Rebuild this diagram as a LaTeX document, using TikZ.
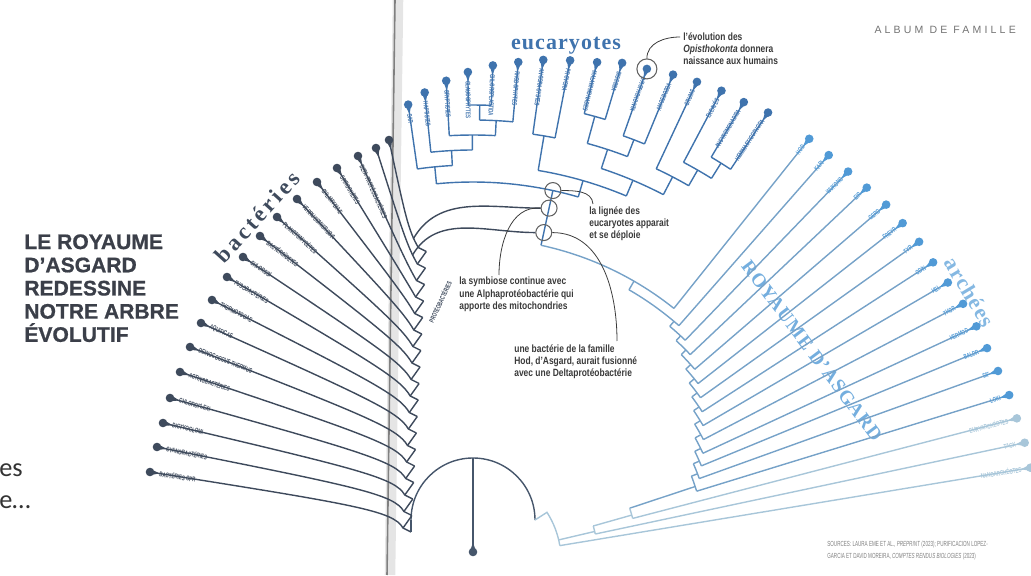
\documentclass[tikz,border=0pt]{standalone}
\usepackage{fontspec}
\setmainfont{Liberation Serif}
\newfontfamily\tipfont[FakeStretch=0.65]{Liberation Sans}
\newfontfamily\srcfont[FakeStretch=0.62]{Liberation Sans}
\newfontfamily\notefont[FakeStretch=0.8]{Liberation Sans}
\newfontfamily\titlefont[FakeBold=0.8]{Liberation Sans}
\newfontfamily\bactfont[LetterSpace=15]{Liberation Serif}
\newfontfamily\cladefont[LetterSpace=5]{Liberation Serif}
\newfontfamily\albumfont[LetterSpace=30]{Liberation Sans}
\newfontfamily\pagefont{Carlito}
\usetikzlibrary{calc}

\definecolor{bact}{HTML}{3E4A5C}
\definecolor{rootc}{HTML}{46566B}
\definecolor{euk}{HTML}{3F73AD}
\definecolor{asg}{HTML}{519AD6}
\definecolor{asgline}{HTML}{76A2C8}
\definecolor{arcpale}{HTML}{A8C6D9}
\definecolor{ink}{HTML}{3B3F49}
\definecolor{note}{HTML}{3A3A3A}

\tikzset{
  tree/.style={draw=#1, line width=0.8pt},
  tiplab/.style={font=\tipfont\bfseries\fontsize{3.9}{4}\selectfont, inner sep=0.5pt},
  note/.style={font=\notefont\bfseries\fontsize{6}{6.9}\selectfont, text=note, align=left, inner sep=0pt},
  ring/.style={circle, draw=note!80, line width=0.6pt, minimum size=0.32cm, inner sep=0pt},
  leader/.style={draw=note, line width=0.45pt},
}
% pin shaped tip: dot at #1, tail towards #2
\newcommand\tipdot[3]{\fill[#3] (#1) circle (4.3) ($(#1)!0.19cm!(#2)$) -- ($(#1)!0.065cm!90:(#2)$) -- ($(#1)!0.065cm!-90:(#2)$) -- cycle;}

\begin{document}
\begin{tikzpicture}[x=0.02cm, y=0.02cm]
\useasboundingbox (0,0) rectangle (1031,575);
\coordinate (C) at (473,15);

% page fold
\draw[black!10, line width=6pt] (398,575) -- (390,0);
\draw[black!50, line width=0.9pt] (395,575) -- (387,0);

% title, header, page bits
\node[anchor=north west, inner sep=0pt, align=left, text=ink, font=\titlefont\bfseries\fontsize{12}{13.2}\selectfont] (title) at (24,341) {LE ROYAUME\\D’ASGARD\\REDESSINE\\NOTRE ARBRE\\ÉVOLUTIF};
\node[anchor=east, text=black!55, font=\albumfont\fontsize{6}{7}\selectfont] (album) at (1022,545) {ALBUM DE FAMILLE};
\node[anchor=west, inner sep=0pt, text=black!80, font=\pagefont\fontsize{15}{15}\selectfont] (frag1) at (-1,105) {es};
\node[anchor=west, inner sep=0pt, text=black!80, font=\pagefont\fontsize{15}{15}\selectfont] (frag2) at (-1,73) {e…};

% clade names
\node[rotate=48, text=bact, font=\bactfont\bfseries\fontsize{13}{13}\selectfont] (bactname) at (257,358) {bactéries};
\node[text=euk, font=\cladefont\bfseries\fontsize{12.5}{13}\selectfont] (eukname) at (566,529) {eucaryotes};
\node[rotate=-59, text=asg!70, font=\cladefont\bfseries\fontsize{12.5}{13}\selectfont] (arcname) at (970,283) {archées};
\node[rotate=-53, text=asg!80, font=\cladefont\bfseries\fontsize{11}{12}\selectfont] (asgname) at (812,224) {ROYAUME D’ASGARD};
\node[tiplab, rotate=65, text=bact] (proteo) at (440,273) {PROTÉOBACTÉRIES};

% root
\draw[tree=rootc] (411,55) arc[start angle=180, end angle=0, radius=62];
\coordinate (rt) at (473,23);
\draw[tree=rootc] (473,117) -- (rt);
\tipdot{rt}{473,117}{rootc}

% bacteria
\foreach \k/\bx/\by/\lab in {1/150/103/BACTÉRIES CPR, 2/157/128/CYANOBACTÉRIES, 3/163/152/DICTYOGLOMI,
  4/170/177/CHLOROFLEXI, 5/180/203/ACTINOBACTÉRIES, 6/190/228/DEINOCOCCUS-THERMUS, 7/201/252/AQUIFICAE,
  8/212/275/THERMOTOGAE, 9/227/298/FUSOBACTÉRIES, 10/243/318/CHLOROBI, 11/260/339/BACTÉROÏDETES,
  12/277/358/PLANCTOMYCÈTES, 13/297/376/VERRUCOMICROBIA, 14/317/393/CHLAMYDIAE, 15/337/407/SPIROCHÈTES,
  16/358/419/BETA-PROTÉOBACTÉRIES, 17/376/427/, 18/389/435/}{
  \coordinate (b\k) at (\bx,\by);
  \coordinate (nb\k) at ({403+0.9*(\k-1)},{47+16.5*(\k-1)});
  \coordinate (qb\k) at ($(nb\k)+(-10,17.3)$);
  \coordinate (sb\k) at ($(nb\k)+(8,-4)$);
  \draw[tree=bact] (b\k) .. controls ($(b\k)!0.85!(qb\k)$) and (qb\k) .. (nb\k) -- (sb\k);
  \tipdot{b\k}{qb\k}{bact}
  \ifnum\k<17
    \path let \p1=($(qb\k)-(b\k)$) in node[tiplab, text=bact, rotate={atan2(\y1,\x1)}, anchor=west] (bl\k) at ($(b\k)!0.17cm!(qb\k)$) {\lab};
  \fi
}
\foreach \k in {2,...,18}{
  \pgfmathtruncatemacro\km{\k-1}
  \draw[tree=bact] (sb\k) -- (nb\km);
}
\draw[tree=rootc] (sb1) -- (411,55);

% eukaryotes
\foreach \ta/\tb/\rad in {95.55/73.83/378, 98.1/93.0/395, 95.9/90.09/410, 93.2/86.98/425, 89.15/84.8/440,
  90.6/87.7/455, 80.5/67.16/395, 82.0/79.0/430, 71.85/62.48/412, 74.65/69.05/432, 76.0/73.3/460,
  70.5/67.6/450, 64.9/60.05/432, 62.1/58.0/450, 59.4/56.6/468}
  \draw[tree=euk] ($(C)+(\ta:\rad)$) arc[start angle=\ta, end angle=\tb, radius=\rad];
\foreach \ang/\ra/\rb in {95.55/378/395, 73.83/378/395, 93.0/395/410, 90.09/410/425, 86.98/425/440,
  89.15/440/455, 80.5/395/430, 67.16/395/412, 71.85/412/432, 74.65/432/460, 69.05/432/450,
  62.48/412/432, 60.05/432/450, 58.0/450/468}
  \draw[tree=euk] ($(C)+(\ang:\ra)$) -- ($(C)+(\ang:\rb)$);
\foreach \k/\ang/\rn/\rad/\lab in {1/98.1/395/460/SAR, 2/95.9/410/470/HAPTISTES, 3/93.2/425/480/CRYPTISTES,
  4/90.6/455/488/GLAUCOPHYTES, 5/87.7/455/495/CHLOROPLASTIDA, 6/84.8/440/500/RHODOPHYTES,
  7/82.0/430/505/ANCORACYSTES, 8/79.0/430/509/PROVORA, 9/76.0/460/513/MALAWIMONADES,
  10/73.3/460/519/DISCOBA, 11/70.5/450/521/OPISTHOKONTA, 12/67.6/450/525/AMOEBOZOA,
  13/64.9/432/528/CRUMS, 14/62.1/450/531/EXCAVÉS, 15/59.4/468/532/ANCYROMONADIDA,
  16/56.6/468/536/HEMIMASTIGOPHORA}{
  \coordinate (e\k) at ($(C)+(\ang:\rad)$);
  \draw[tree=euk] ($(C)+(\ang:\rn)$) -- (e\k);
  \tipdot{e\k}{C}{euk}
  \pgfmathtruncatemacro\side{\ang>=68}
  \ifnum\side=1
    \node[tiplab, text=euk, rotate=\ang-180, anchor=west] (el\k) at ($(C)+(\ang:\rad-8)$) {\lab};
  \else
    \node[tiplab, text=euk, rotate=\ang, anchor=east] (el\k) at ($(C)+(\ang:\rad-8)$) {\lab};
  \fi
}
\draw[tree=euk] ($(C)+(77.8:322)$) -- ($(C)+(77.8:378)$);

% archaea
\draw[tree=asgline] ($(C)+(77.8:322)$) arc[start angle=77.8, end angle=51.4, radius=322];
\draw[tree=asgline] ($(C)+(60:312)$) -- ($(C)+(60:322)$);
\foreach \k/\ang/\prev/\rad/\rn/\col in {2/48.7/60/312/305.5/asgline, 3/46.0/49.9/305.5/299/asgline,
  4/43.4/47.2/299/292.5/asgline, 5/40.7/44.6/292.5/286/asgline, 6/38.1/41.9/286/279.5/asgline,
  7/35.5/39.3/279.5/273/asgline, 8/32.9/36.7/273/266.5/asgline, 9/30.3/34.1/266.5/260/asgline,
  10/27.6/31.5/260/253.5/asgline, 11/24.9/28.8/253.5/247/asgline, 12/22.4/26.1/247/240.5/asgline,
  13/19.8/23.6/240.5/234/asgline, 14/17.1/21.0/234/165/asgline, 15/14.6/18.3/165/125/arcpale,
  16/12.0/15.8/125/88/arcpale}{
  \draw[tree=\col] ($(C)+(\ang+1.2:\rn)$) -- ($(C)+(\ang+1.2:\rad)$);
  \draw[tree=\col] ($(C)+(\ang:\rad)$) arc[start angle=\ang, end angle=\prev, radius=\rad];
}
\draw[tree=arcpale] (535,55) -- ($(C)+(32.8:88)$) arc[start angle=32.8, end angle=9.4, radius=88];
\foreach \k/\ang/\rn/\rad/\lab/\lc/\dc in {1/51.4/322/539/HOD/asgline/asg, 2/48.7/312/539/KARI/asgline/asg,
  3/46.0/305.5/540/WUKONG/asgline/asg, 4/43.4/299/542/EIR/asgline/asg, 5/40.7/292.5/545/GERD/asgline/asg,
  6/38.1/286/546/FREYR/asgline/asg, 7/35.5/279.5/548/TYR/asgline/asg, 8/32.9/273/548/ODIN/asgline/asg,
  9/30.3/266.5/550/HEL/asgline/asg, 10/27.6/260/553/THOR/asgline/asg, 11/24.9/253.5/555/HERMOD/asgline/asg,
  12/22.4/247/556/BALDR/asgline/asg, 13/19.8/240.5/558/SIF/asgline/asg, 14/17.1/234/561/LOKI/asgline/asg,
  15/14.6/165/562/EURYARCHÉOTES/arcpale/arcpale, 16/12.0/125/564/TACK/arcpale/arcpale,
  17/9.4/88/565/NANOARCHÉOTES/arcpale/arcpale}{
  \coordinate (a\k) at ($(C)+(\ang:\rad)$);
  \draw[tree=\lc] ($(C)+(\ang:\rn)$) -- (a\k);
  \tipdot{a\k}{C}{\dc}
  \node[tiplab, text=\dc, rotate=\ang, anchor=east] (al\k) at ($(C)+(\ang:\rad-8)$) {\lab};
}

% key events on the eukaryote stem
\node[ring] (c1) at ($(C)+(77.8:378)$) {};
\node[ring] (c2) at ($(C)+(77.8:360)$) {};
\node[ring] (c3) at ($(C)+(77.8:335)$) {};
\node[ring, minimum size=0.4cm] (c0) at (e11) {};
\coordinate (p18) at ($(nb18)+(-5,8.7)$);
\coordinate (p17) at ($(nb17)+(-5,8.7)$);
\draw[tree=bact] (c2.west) to[out=180, in=60] (p18);
\draw[tree=bact] (c3.west) to[out=180, in=60] (p17);

% notes
\node[note, anchor=north west] (n1) at (683,543) {l’évolution des\\\textit{Opisthokonta} donnera\\naissance aux humains};
\node[note, anchor=north west] (n2) at (589,369) {la lignée des\\eucaryotes apparait\\et se déploie};
\node[note, anchor=north west] (n3) at (459,298) {la symbiose continue avec\\une Alphaprotéobactérie qui\\apporte des mitochondries};
\node[note, anchor=north west] (n4) at (514,231) {une bactérie de la famille\\Hod, d’Asgard, aurait fusionné\\avec une Deltaprotéobactérie};
\draw[leader] (c0.north) to[out=90, in=180] ($(n1.north west)+(-3,-5)$);
\draw[leader] (c1.east) to[out=0, in=95] ($(n2.north west)+(4,2)$);
\draw[leader] (c2.west) to[out=175, in=90] ($(n3.north west)+(40,2)$);
\draw[leader] (c3.east) to[out=0, in=90] ($(n4.north west)+(103,3)$);

% sources
\node[anchor=north west, inner sep=0pt, align=left, text=black!50, font=\srcfont\fontsize{4.2}{6.8}\selectfont] (src) at (827,34) {SOURCES: LAURA EME ET AL., \textit{PREPRINT} (2023); PURIFICACION LOPEZ-\\GARCIA ET DAVID MOREIRA, \textit{COMPTES RENDUS BIOLOGIES} (2023)};
\end{tikzpicture}
\end{document}
